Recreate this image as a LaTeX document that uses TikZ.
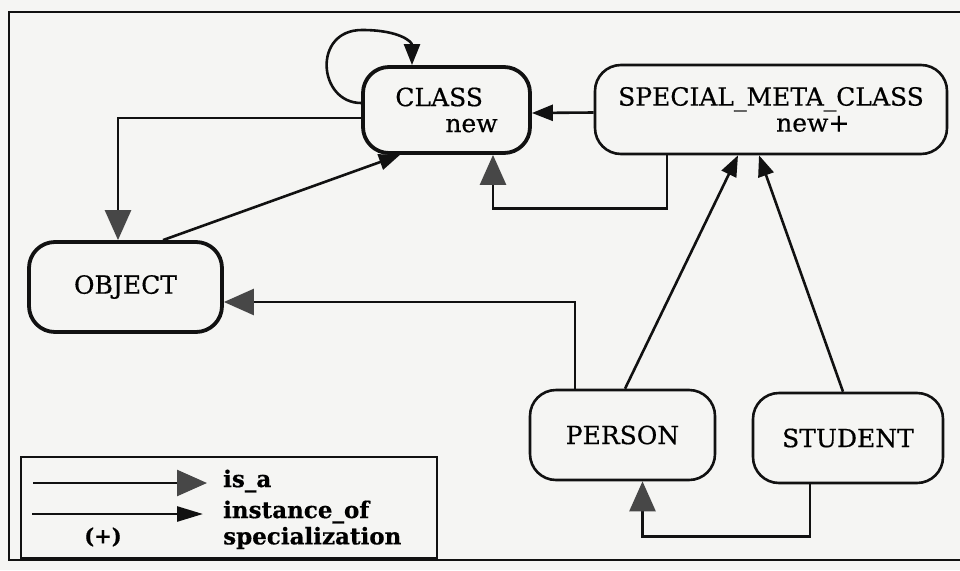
\documentclass[tikz,border=0pt]{standalone}
\usepackage{fontspec}
\setmainfont{DejaVu Serif}[FakeBold=0.5]
\usetikzlibrary{arrows.meta}

\definecolor{paper}{HTML}{F5F5F3}
\definecolor{ink}{HTML}{111111}
\definecolor{isagray}{HTML}{474747}

\tikzset{
  box/.style={draw=ink, rounded corners=26pt, line width=2.6pt,
              inner sep=0pt, font=\fontsize{25}{29}\selectfont, align=left},
  heavybox/.style={box, line width=3.8pt},
  isa/.style={draw=ink, line width=2.6pt,
              -{Triangle[length=30pt,width=26pt,fill=isagray,color=isagray]}},
  inst/.style={draw=ink, line width=2.6pt,
              -{Triangle[length=21pt,width=16pt,fill=ink]}},
  legendtext/.style={anchor=west, inner sep=0pt, font=\bfseries\fontsize{23}{26}\selectfont}
}

\begin{document}
\begin{tikzpicture}[x=1pt, y=-1pt]
  % page and outer frame
  \fill[paper] (0,0) rectangle (960,570);
  \useasboundingbox (0,0) rectangle (960,570);
  \draw[ink, line width=2.6pt] (962,12) -- (9,12) -- (9,560) -- (962,560);

  % classes
  \node[heavybox, minimum width=167pt, minimum height=86pt] (cls) at (446.5,110)
       {CLASS\\[-3pt]\hspace*{50pt}new};
  \node[box, minimum width=352pt, minimum height=89pt] (smc) at (771,109.5)
       {SPECIAL\_META\_CLASS\\[-3pt]\hspace*{158pt}new+};
  \node[heavybox, minimum width=193pt, minimum height=90pt] (obj) at (125.5,287) {OBJECT};
  \node[box, minimum width=185pt, minimum height=90pt] (per) at (622.5,435) {PERSON};
  \node[box, minimum width=190pt, minimum height=90pt] (stu) at (848,438) {STUDENT};

  % CLASS is an instance of itself
  \draw[inst] ([yshift=7pt]cls.west) .. controls (318,103) and (312,30) .. (362,30)
       .. controls (400,30) and (412,42) .. ([xshift=-34.5pt]cls.north);

  % is_a links
  \draw[isa] ([yshift=-8pt]cls.west) -| ([xshift=-7.5pt]obj.north);
  \draw[isa] ([xshift=-104pt]smc.south) -- ++(0,53) -| ([xshift=46.5pt]cls.south);
  \draw[isa] ([xshift=-47.5pt]per.north) |- ([yshift=-15pt]obj.east);
  \draw[isa] ([xshift=-38pt]stu.south) -- ++(0,52) -| ([xshift=20pt]per.south);

  % instance_of links
  \draw[inst] ([xshift=37.5pt]obj.north) -- ([xshift=-46.5pt]cls.south);
  \draw[inst] ([yshift=-3pt]smc.west) -- ([yshift=-3pt]cls.east);
  \draw[inst] ([xshift=2.5pt]per.north) -- ([xshift=-33pt]smc.south);
  \draw[inst] ([xshift=-5pt]stu.north) -- ([xshift=-12pt]smc.south);

  % legend
  \node[draw=ink, line width=2.6pt, minimum width=416pt, minimum height=101pt,
        inner sep=0pt] (leg) at (229,507.5) {};
  \coordinate (isaA) at (33,483);
  \coordinate (isaB) at (207,483);
  \coordinate (insA) at (32,514);
  \coordinate (insB) at (203,514);
  \draw[isa] (isaA) -- (isaB);
  \draw[inst, -{Triangle[length=26pt,width=15pt,fill=ink]}] (insA) -- (insB);
  \node[legendtext] (lisa) at (223,481) {is\_a};
  \node[legendtext] (lins) at (223,512) {instance\_of};
  \node[legendtext] (lspec) at (223,538) {specialization};
  \node[inner sep=0pt, font=\bfseries\fontsize{21}{24}\selectfont] (lplus) at (103,537) {(+)};
\end{tikzpicture}
\end{document}
